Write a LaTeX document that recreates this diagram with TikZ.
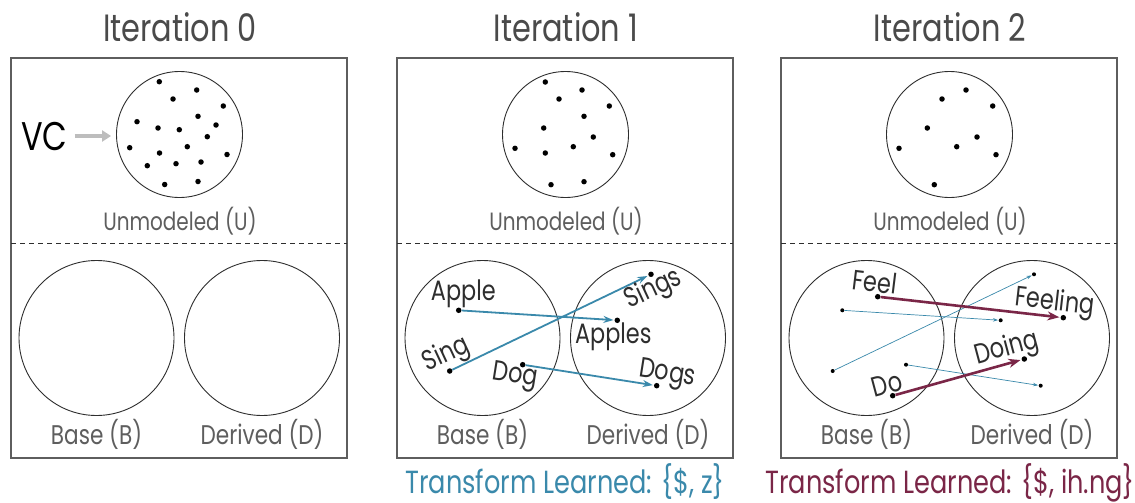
\documentclass[tikz,border=0pt]{standalone}
\usepackage{fontspec}
\setmainfont{Poppins}
\usetikzlibrary{arrows.meta}

\definecolor{tblue}{HTML}{3A89AB}
\definecolor{tred}{HTML}{7A2647}
\definecolor{ink}{HTML}{2E2E2E}
\definecolor{head}{HTML}{4A4A4A}
\definecolor{soft}{HTML}{5E5E5E}
\definecolor{vcgray}{HTML}{BDBDBD}

% narrow the geometric sans a little
\newcommand\nar[1]{\scalebox{0.8}[1]{#1}}

\tikzset{
  panel/.style={draw=soft, line width=1.1pt},
  divider/.style={draw=ink, line width=0.8pt, dash pattern=on 5pt off 4pt},
  setU/.style={circle, draw=ink, line width=0.9pt, minimum size=126pt, inner sep=0pt},
  setBD/.style={circle, draw=ink, line width=0.9pt, minimum size=155pt, inner sep=0pt},
  elem/.style={circle, fill=black, inner sep=0pt, minimum size=5.5pt},
  small elem/.style={circle, fill=black, inner sep=0pt, minimum size=4pt},
  title/.style={anchor=base, text=head, font=\fontsize{38}{40}\selectfont},
  setname/.style={anchor=base, text=soft, font=\fontsize{25}{27}\selectfont},
  pairname/.style={anchor=base, text=soft, font=\fontsize{27}{29}\selectfont},
  word/.style={text=ink, font=\fontsize{28}{30}\selectfont, inner sep=0pt},
  learned/.style={anchor=base, font=\fontsize{32}{34}\selectfont},
  map/.style={draw=tblue, line width=1.8pt, -{Stealth[length=10pt,width=7pt]}, shorten >=1pt},
  oldmap/.style={draw=tblue, line width=0.7pt, -{Stealth[length=5pt,width=3.5pt]}, shorten >=0.5pt},
  newmap/.style={draw=tred, line width=2.6pt, -{Stealth[length=12pt,width=9pt]}, shorten >=1pt},
  vcarrow/.style={draw=vcgray, line width=3.5pt, -{Triangle[length=9pt,width=11pt]}, shorten <=5pt, shorten >=5pt},
}

\begin{document}
\begin{tikzpicture}[x=1pt,y=-1pt]
\useasboundingbox (0,0) rectangle (1135,503);
\fill[white] (0,0) rectangle (1135,503);

% ---------------- Iteration 0 ----------------
\draw[panel] (11,58) rectangle (347,458);
\draw[divider] (11,243) -- (347,243);
\node[title] (t0) at (180,42) {\nar{Iteration 0}};
\node[setU] (u0) at (179.5,134.5) {};
\foreach \x/\y [count=\i] in {159.3/81.7, 196.7/90, 173/99, 223.3/106, 198/116.3,
    137/121.7, 216/125, 158/128, 179.3/129.7, 207.3/136.7, 129.7/147.7, 187.3/146.7,
    159.5/153, 227/154.5, 176/163.7, 201/162, 147.3/165.7, 164.7/184.5, 198/181.5}
  \node[elem] (ua\i) at (\x,\y) {};
\node[setname] (lu0) at (180,230) {\nar{Unmodeled (U)}};
\node[anchor=base, text=black, font=\fontsize{40}{42}\selectfont, inner sep=2pt] (vc) at (44.5,150) {\nar{VC}};
\draw[vcarrow] (vc.east) -- (vc.east -| u0.west);
\node[setBD] (b0) at (96.5,338) {};
\node[setBD] (d0) at (262,338) {};
\node[pairname] (lb0) at (96.5,444) {\nar{Base (B)}};
\node[pairname] (ld0) at (262,444) {\nar{Derived (D)}};

% ---------------- Iteration 1 ----------------
\draw[panel] (397,58) rectangle (733,458);
\draw[divider] (397,243) -- (733,243);
\node[title] (t1) at (566,42) {\nar{Iteration 1}};
\node[setU] (u1) at (565.5,134.5) {};
\foreach \x/\y [count=\i] in {159.3/82, 196/90, 173/99, 223.3/106, 198/116.3,
    157.7/128, 207.3/137, 129/148.3, 159.3/153, 187.3/146.7, 226.7/154.7,
    165/184.7, 198/181.7}
  \node[elem] (ub\i) at (\x+386,\y) {};
\node[setname] (lu1) at (566,230) {\nar{Unmodeled (U)}};
\node[setBD] (b1) at (482.5,338) {};
\node[setBD] (d1) at (648,338) {};
\node[pairname] (lb1) at (482.5,444) {\nar{Base (B)}};
\node[pairname] (ld1) at (648,444) {\nar{Derived (D)}};

\node[elem] (apple)  at (458.7,310.3) {};
\node[elem] (apples) at (617.3,320.3) {};
\node[elem] (sing)   at (449.7,371) {};
\node[elem] (sings)  at (651,274.3) {};
\node[elem] (dog)    at (522.7,364.7) {};
\node[elem] (dogs)   at (656.7,385.7) {};
\draw[map] (apple) -- (apples);
\draw[map] (sing) -- (sings);
\draw[map] (dog) -- (dogs);
\node[word, anchor=base] (wapple)  at (463.3,300) {\nar{Apple}};
\node[word, anchor=base] (wapples) at (613.3,343.3) {\nar{Apples}};
\node[word, rotate=25]  (wsing)   at (446.7,355) {\nar{Sing}};
\node[word, rotate=25]  (wsings)  at (653.3,290) {\nar{Sings}};
\node[word, rotate=-9]  (wdog)    at (515,376.7) {\nar{Dog}};
\node[word, rotate=-9]  (wdogs)   at (667.3,375) {\nar{Dogs}};
\node[learned, text=tblue] (tl1) at (565,493) {\nar{Transform Learned: \{\$, z\}}};

% ---------------- Iteration 2 ----------------
\draw[panel] (781,58) rectangle (1117,458);
\draw[divider] (781,243) -- (1117,243);
\node[title] (t2) at (950,42) {\nar{Iteration 2}};
\node[setU] (u2) at (949.5,134.5) {};
\foreach \x/\y [count=\i] in {196/90, 172/99, 222.7/106, 157.3/128, 207/137,
    129/148.3, 186.7/146.7, 226/154.7, 164.3/184.7}
  \node[elem] (uc\i) at (\x+770,\y) {};
\node[setname] (lu2) at (950,230) {\nar{Unmodeled (U)}};
\node[setBD] (b2) at (866.5,338) {};
\node[setBD] (d2) at (1032,338) {};
\node[pairname] (lb2) at (866.5,444) {\nar{Base (B)}};
\node[pairname] (ld2) at (1032,444) {\nar{Derived (D)}};

% pairs already covered by the first transform
\node[small elem] (oa) at (842.3,310.3) {};
\node[small elem] (ob) at (1000.7,320.3) {};
\node[small elem] (oc) at (832.7,371) {};
\node[small elem] (od) at (1034,274.3) {};
\node[small elem] (oe) at (906,364.7) {};
\node[small elem] (of) at (1040.7,385.7) {};
\draw[oldmap] (oa) -- (ob);
\draw[oldmap] (oc) -- (od);
\draw[oldmap] (oe) -- (of);

\node[elem] (feel)    at (877.7,296.7) {};
\node[elem] (feeling) at (1063.3,317.7) {};
\node[elem] (do)      at (892.7,395.7) {};
\node[elem] (doing)   at (1024.3,359) {};
\draw[newmap] (feel) -- (feeling);
\draw[newmap] (do) -- (doing);
\node[word, rotate=-7]   (wfeel)    at (874.7,281.7) {\nar{Feel}};
\node[word, rotate=-6.5] (wfeeling) at (1055,303.3) {\nar{Feeling}};
\node[word, rotate=15]   (wdo)      at (887,384) {\nar{Do}};
\node[word, rotate=15]   (wdoing)   at (1006.7,349) {\nar{Doing}};
\node[learned, text=tred] (tl2) at (950,493) {\nar{Transform Learned: \{\$, ih.ng\}}};
\end{tikzpicture}
\end{document}
